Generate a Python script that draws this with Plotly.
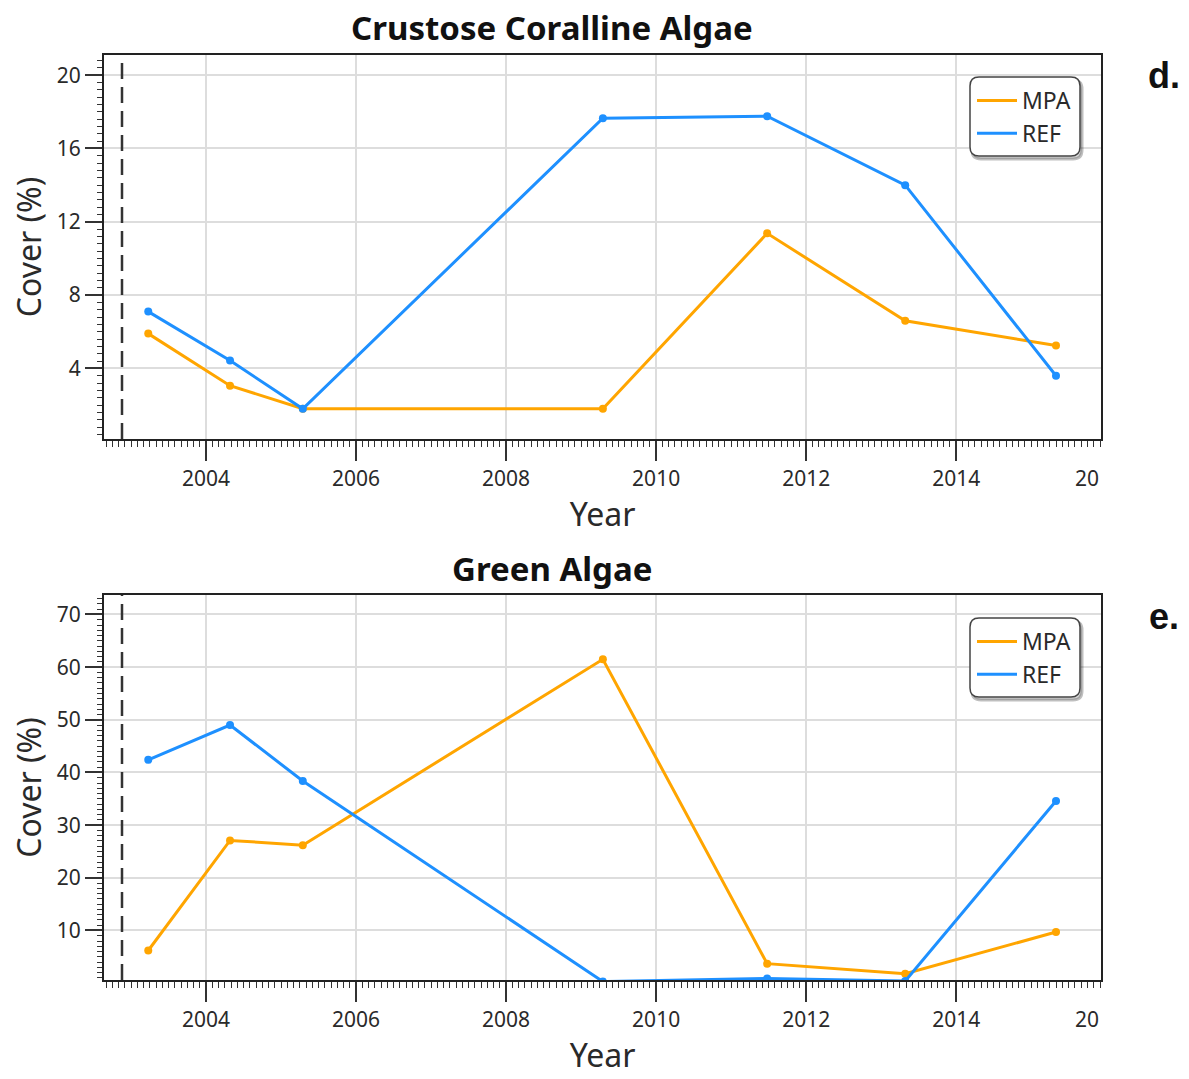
import plotly.graph_objects as go

# ---- data ----
years = [2003.23, 2004.32, 2005.29, 2009.29, 2011.48, 2013.32, 2015.33]
cca_mpa = [5.9, 3.06, 1.8, 1.8, 11.37, 6.6, 5.25]
cca_ref = [7.1, 4.43, 1.8, 17.65, 17.76, 14.0, 3.6]
green_mpa = [6.2, 27.1, 26.2, 61.5, 3.7, 1.8, 9.7]
green_ref = [42.4, 49.0, 38.4, 0.3, 0.9, 0.4, 34.6]
mpa_year = 2002.88
titles = ["Crustose Coralline Algae", "Green Algae"]
panel_labels = ["d.", "e."]
x_ticks = [2004, 2006, 2008, 2010, 2012, 2014]

ORANGE = "#FFA500"
BLUE = "#1E90FF"
FONT = "Noto Sans"
TXT = "#2a2a2a"

W, H = 1189, 1079
ML, MR, MT, MB = 104, 88, 55, 99
PW = W - ML - MR
PH = H - MT - MB


def py(pix):
    return (H - MB - pix) / PH


def px(pix):
    return (pix - ML) / PW


fig = go.Figure()

top_dom = [py(439), 1.0]
bot_dom = [0.0, py(595)]

for i, (mpa, ref) in enumerate([(cca_mpa, cca_ref), (green_mpa, green_ref)]):
    xa = "x" if i == 0 else "x2"
    ya = "y" if i == 0 else "y2"
    lg = "legend" if i == 0 else "legend2"
    fig.add_trace(go.Scatter(x=years, y=mpa, mode="lines+markers", name="MPA", showlegend=False,
                             line=dict(color=ORANGE, width=3), marker=dict(size=8, color=ORANGE),
                             xaxis=xa, yaxis=ya))
    fig.add_trace(go.Scatter(x=years, y=ref, mode="lines+markers", name="REF", showlegend=False,
                             line=dict(color=BLUE, width=3), marker=dict(size=8, color=BLUE),
                             xaxis=xa, yaxis=ya))
    # legend-only entries (lines only)
    fig.add_trace(go.Scatter(x=[None], y=[None], mode="lines", name="MPA", legend=lg,
                             line=dict(color=ORANGE, width=3), xaxis=xa, yaxis=ya))
    fig.add_trace(go.Scatter(x=[None], y=[None], mode="lines", name="REF", legend=lg,
                             line=dict(color=BLUE, width=3), xaxis=xa, yaxis=ya))
    # MPA establishment dashed line
    fig.add_shape(type="line", x0=mpa_year, x1=mpa_year, y0=0, y1=1,
                  xref=xa, yref=("y domain" if i == 0 else "y2 domain"),
                  line=dict(color="#333333", width=2.5, dash="16px,8px"))

axis_common = dict(
    showline=True, linecolor="#222222", linewidth=2, mirror=True,
    showgrid=True, gridcolor="#DDDDDD", gridwidth=2,
    ticks="outside", tickcolor="#333333", tickwidth=1.5,
    tickfont=dict(family=FONT, size=21, color=TXT),
    zeroline=False,
)

xaxis_common = dict(axis_common, range=[2002.64, 2015.93], tickvals=x_ticks, ticklen=20,
                    minor=dict(tick0=2004, dtick=1 / 12, ticklen=6, ticks="outside",
                               tickcolor="#333333", tickwidth=1, showgrid=False),
                    title=dict(text="Year", font=dict(family=FONT, size=32, color=TXT), standoff=12))

ytitle = dict(text="Cover (%)", font=dict(family=FONT, size=32, color=TXT), standoff=6)

legend_font = dict(family=FONT, size=23, color=TXT)

fig.update_layout(
    width=W, height=H,
    margin=dict(l=ML, r=MR, t=MT, b=MB),
    paper_bgcolor="white", plot_bgcolor="white",
    xaxis=dict(xaxis_common, domain=[0, 1], anchor="y"),
    xaxis2=dict(xaxis_common, domain=[0, 1], anchor="y2"),
    yaxis=dict(axis_common, domain=top_dom, anchor="x", range=[0.15, 21.1],
               tickvals=[4, 8, 12, 16, 20], ticklen=17,
               minor=dict(dtick=0.4, ticklen=5, ticks="outside", tickcolor="#333333",
                          tickwidth=1, showgrid=False),
               title=ytitle),
    yaxis2=dict(axis_common, domain=bot_dom, anchor="x2", range=[0.6, 73.7],
                tickvals=[10, 20, 30, 40, 50, 60, 70], ticklen=17,
                minor=dict(dtick=1, ticklen=5, ticks="outside", tickcolor="#333333",
                           tickwidth=1, showgrid=False),
                title=ytitle),
    legend=dict(x=px(972), y=py(79), xanchor="left", yanchor="top", bgcolor="rgba(0,0,0,0)",
                font=legend_font, itemwidth=40, tracegroupgap=0),
    legend2=dict(x=px(972), y=py(620), xanchor="left", yanchor="top", bgcolor="rgba(0,0,0,0)",
                 font=legend_font, itemwidth=40, tracegroupgap=0),
    showlegend=True,
)


def rounded_rect(x0p, y0p, x1p, y1p, rp):
    """Rounded rectangle given in pixel coordinates, converted to paper."""
    def P(a, b):
        return f"{px(a)},{py(b)}"

    return (f"M {P(x0p+rp, y0p)} L {P(x1p-rp, y0p)} Q {P(x1p, y0p)} {P(x1p, y0p+rp)} "
            f"L {P(x1p, y1p-rp)} Q {P(x1p, y1p)} {P(x1p-rp, y1p)} L {P(x0p+rp, y1p)} "
            f"Q {P(x0p, y1p)} {P(x0p, y1p-rp)} L {P(x0p, y0p+rp)} Q {P(x0p, y0p)} {P(x0p+rp, y0p)} Z")


# legend boxes
for (bx0, by0, bx1, by1) in [(970, 77, 1080, 156), (970, 618, 1080, 697)]:
    fig.add_shape(type="path", xref="paper", yref="paper",
                  path=rounded_rect(bx0 + 2, by0 + 3, bx1 + 2, by1 + 3, 9),
                  line=dict(color="rgba(0,0,0,0.25)", width=3), fillcolor="rgba(0,0,0,0.15)")
    fig.add_shape(type="path", xref="paper", yref="paper",
                  path=rounded_rect(bx0, by0, bx1, by1, 9),
                  line=dict(color="#444444", width=1.5), fillcolor="white")

# titles and panel labels
for i, (yt, yl) in enumerate([(27, 76), (568, 616)]):
    fig.add_annotation(text=f"<b>{titles[i]}</b>", x=px(552), y=py(yt), xref="paper", yref="paper",
                       showarrow=False, xanchor="center", yanchor="middle",
                       font=dict(family=FONT, size=33, color="#111111"))
    fig.add_annotation(text=f"<b>{panel_labels[i]}</b>", x=px(1164), y=py(yl), xref="paper", yref="paper",
                       showarrow=False, xanchor="center", yanchor="middle",
                       font=dict(family="Liberation Sans", size=36, color="#111111"))
    # clipped 2016 label at the right edge
    fig.add_annotation(text="20", x=1.0, y=py(478 if i == 0 else 1019), xref="paper", yref="paper",
                       showarrow=False, xanchor="right", yanchor="middle",
                       font=dict(family=FONT, size=21, color=TXT))

fig.write_html("out.html")
